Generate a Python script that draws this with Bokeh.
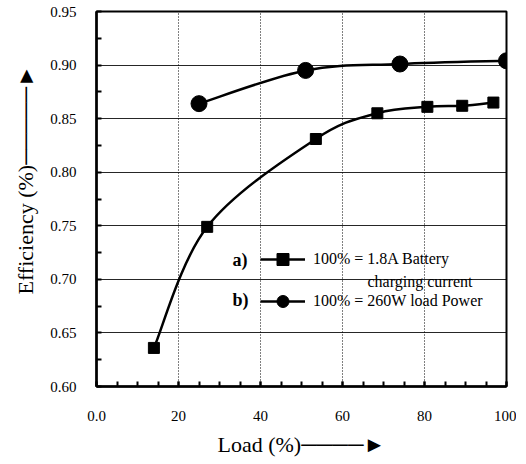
from bokeh.plotting import figure
from bokeh.models import (FixedTicker, Range1d, Label, Legend, LegendItem,
                          ColumnDataSource, Title, CustomJSTickFormatter)
from bokeh.embed import file_html
from bokeh.resources import INLINE

# ---- data ----
load_a = [14, 27, 53.5, 68.5, 80.7, 89.2, 96.8]
eff_a = [0.636, 0.749, 0.831, 0.855, 0.861, 0.862, 0.865]
load_b = [25, 51, 74, 100]
eff_b = [0.864, 0.895, 0.901, 0.904]

label_a = "100% = 1.8A Battery"
label_a2 = "charging current"
label_b = "100% = 260W load Power"
x_title = "Load (%)"
y_title = "Efficiency (%)"
x_ticks = [0, 20, 40, 60, 80, 100]
x_tick_labels = ["0.0", "20", "40", "60", "80", "100"]
y_ticks = [0.60, 0.65, 0.70, 0.75, 0.80, 0.85, 0.90, 0.95]
y_tick_labels = ["0.60", "0.65", "0.70", "0.75", "0.80", "0.85", "0.90", "0.95"]

FONT = "Liberation Serif"
ARROW_X = "\u2500" * 4 + "\u25BA"
ARROW_Y = "\u2500" * 5 + "\u25BA"


def bezier_source(xs, ys):
    """Catmull-Rom curve through the data points as cubic Bezier segments."""
    px = [xs[0]] + list(xs) + [xs[-1]]
    py = [ys[0]] + list(ys) + [ys[-1]]
    d = dict(x0=[], y0=[], x1=[], y1=[], cx0=[], cy0=[], cx1=[], cy1=[])
    for i in range(len(xs) - 1):
        a, b, c, e = i, i + 1, i + 2, i + 3
        d["x0"].append(px[b]); d["y0"].append(py[b])
        d["x1"].append(px[c]); d["y1"].append(py[c])
        d["cx0"].append(px[b] + (px[c] - px[a]) / 6.0)
        d["cy0"].append(py[b] + (py[c] - py[a]) / 6.0)
        d["cx1"].append(px[c] - (px[e] - px[b]) / 6.0)
        d["cy1"].append(py[c] - (py[e] - py[b]) / 6.0)
    return ColumnDataSource(d)


def tick_formatter(vals, labels):
    return CustomJSTickFormatter(
        args=dict(tvals=vals, tlabels=labels),
        code="""
        for (let i = 0; i < tvals.length; i++) {
            if (Math.abs(tvals[i] - tick) < 1e-9) { return tlabels[i]; }
        }
        return '';
        """)


p = figure(width=516, height=462, output_backend="svg", toolbar_location=None,
           x_range=Range1d(0, 100), y_range=Range1d(0.60, 0.95),
           min_border_left=95, min_border_right=10, min_border_top=11,
           min_border_bottom=76)
p.background_fill_color = "white"
p.border_fill_color = "white"
p.outline_line_color = "black"
p.outline_line_width = 2

p.xaxis.ticker = FixedTicker(ticks=x_ticks, minor_ticks=list(range(0, 101, 5)))
p.yaxis.ticker = FixedTicker(
    ticks=y_ticks, minor_ticks=[0.625, 0.675, 0.725, 0.775, 0.825, 0.875, 0.925])
p.xaxis.formatter = tick_formatter(x_ticks, x_tick_labels)
p.yaxis.formatter = tick_formatter(y_ticks, y_tick_labels)

p.axis.axis_line_width = 2.5
p.axis.axis_line_color = "black"
p.axis.major_tick_in = 5
p.axis.major_tick_out = 0
p.axis.minor_tick_in = 5
p.axis.minor_tick_out = 0
p.axis.major_tick_line_width = 2
p.axis.minor_tick_line_width = 2
p.axis.major_tick_line_color = "black"
p.axis.minor_tick_line_color = "black"
p.axis.major_label_text_font = FONT
p.axis.major_label_text_font_style = "normal"
p.axis.major_label_text_font_size = "15px"
p.axis.major_label_text_color = "black"
p.xaxis.major_label_standoff = 24
p.yaxis.major_label_standoff = 20

p.ygrid.grid_line_color = "black"
p.ygrid.grid_line_width = 1
p.ygrid.grid_line_alpha = 0.85
p.xgrid.grid_line_color = "black"
p.xgrid.grid_line_width = 1
p.xgrid.grid_line_dash = "1 2"

# curves
bez_a = p.bezier(x0="x0", y0="y0", x1="x1", y1="y1", cx0="cx0", cy0="cy0",
                 cx1="cx1", cy1="cy1", source=bezier_source(load_a, eff_a),
                 line_color="black", line_width=2.5)
bez_b = p.bezier(x0="x0", y0="y0", x1="x1", y1="y1", cx0="cx0", cy0="cy0",
                 cx1="cx1", cy1="cy1", source=bezier_source(load_b, eff_b),
                 line_color="black", line_width=2.5)
sc_a = p.scatter(load_a, eff_a, marker="square", size=11,
                 fill_color="black", line_color="black")
sc_b = p.scatter(load_b, eff_b, marker="circle", size=16,
                 fill_color="black", line_color="black")

legend = Legend(items=[LegendItem(label=label_a, renderers=[bez_a, sc_a]),
                       LegendItem(label=label_b, renderers=[bez_b, sc_b])],
                location=(164, 70), padding=0, margin=0, spacing=12,
                glyph_width=45, glyph_height=30, label_height=30,
                label_standoff=8, border_line_color=None,
                background_fill_alpha=0,
                label_text_font=FONT, label_text_font_size="16px",
                label_text_color="black")
p.add_layout(legend)

p.add_layout(Label(x=271, y=105, x_units="screen", y_units="screen",
                   text=label_a2, text_font=FONT, text_font_size="16px",
                   text_color="black",
                   text_baseline="middle", text_align="left"))
p.add_layout(Label(x=136, y=127, x_units="screen", y_units="screen",
                   text="a)", text_font=FONT, text_font_size="18px",
                   text_color="black",
                   text_font_style="bold", text_baseline="middle"))
p.add_layout(Label(x=136, y=87, x_units="screen", y_units="screen",
                   text="b)", text_font=FONT, text_font_size="18px",
                   text_color="black",
                   text_font_style="bold", text_baseline="middle"))

# axis titles with their arrows
p.add_layout(Title(text=y_title + ARROW_Y, align="left", offset=92,
                   standoff=20, text_font=FONT, text_font_size="22px",
                   text_font_style="normal", text_color="black"), "left")
p.add_layout(Title(text=x_title + ARROW_X, align="left", offset=121,
                   standoff=12, text_font=FONT, text_font_size="22px",
                   text_font_style="normal", text_color="black"), "below")

open("out.html", "w").write(file_html(p, INLINE))
